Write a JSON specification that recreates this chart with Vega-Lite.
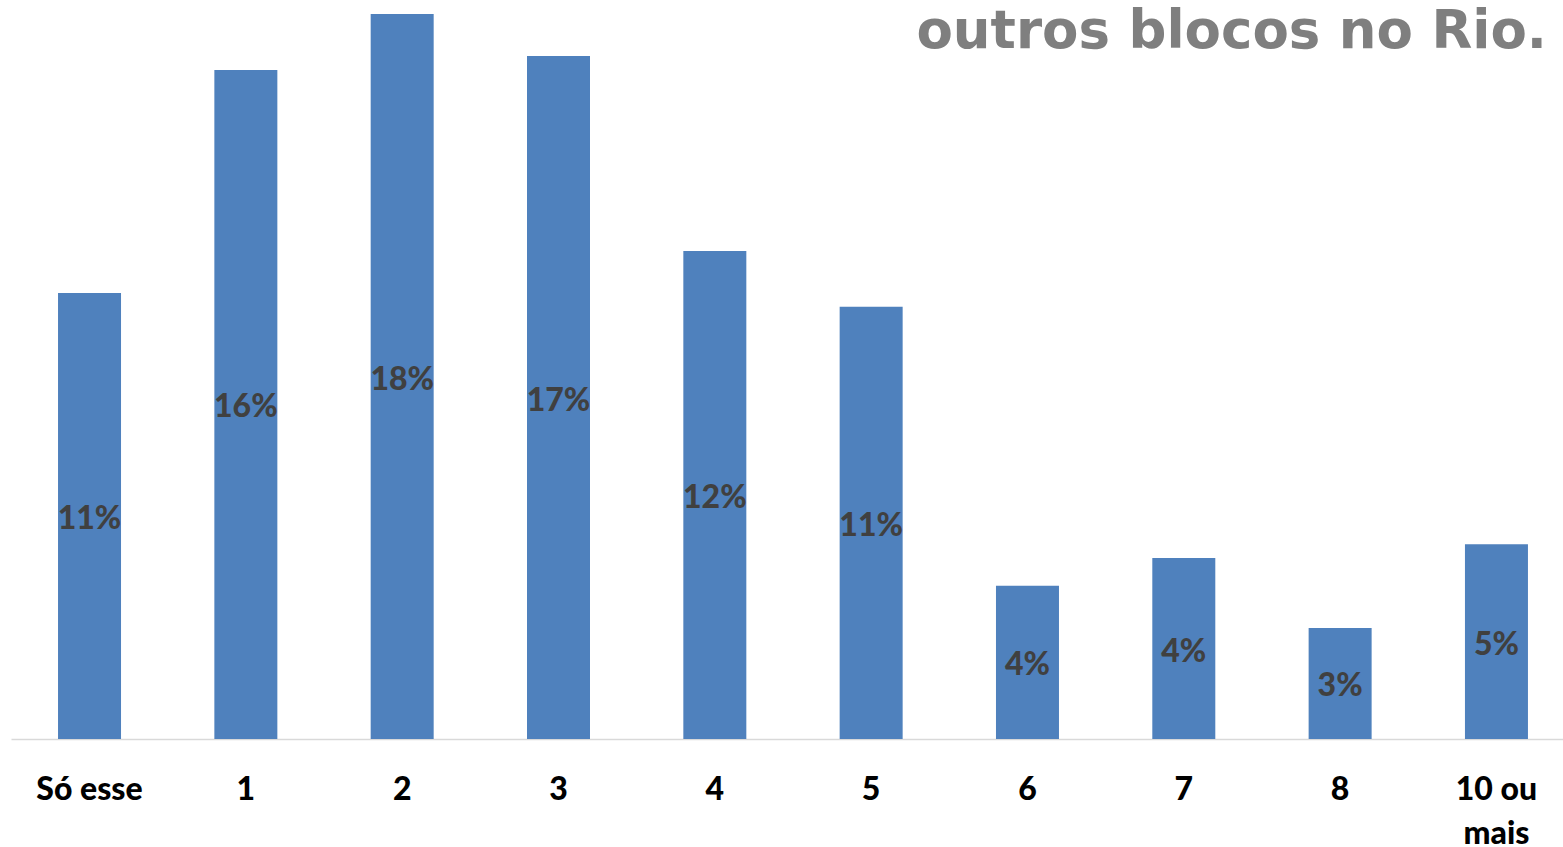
{
  "$schema": "https://vega.github.io/schema/vega-lite/v6.json",
  "autosize": {"type": "none"},
  "width": 1552,
  "height": 725,
  "padding": {"left": 11, "top": 14, "right": 0, "bottom": 108},
  "background": "white",
  "data": {
    "values": [
      {"cat": "Só esse", "value": 0.1092},
      {"cat": "1", "value": 0.1638},
      {"cat": "2", "value": 0.1775},
      {"cat": "3", "value": 0.1672},
      {"cat": "4", "value": 0.1195},
      {"cat": "5", "value": 0.1058},
      {"cat": "6", "value": 0.0375},
      {"cat": "7", "value": 0.0443},
      {"cat": "8", "value": 0.0272},
      {"cat": "10 ou mais", "value": 0.0477}
    ]
  },
  "config": {"view": {"stroke": null}},
  "encoding": {
    "x": {
      "field": "cat",
      "type": "nominal",
      "sort": null,
      "scale": {"paddingInner": 0.597, "paddingOuter": 0.2625, "align": 0.573},
      "axis": {
        "title": null,
        "labelAngle": 0,
        "labelFont": "Lato",
        "labelFontSize": 32,
        "labelFontWeight": 900,
        "labelColor": "#000000",
        "labelPadding": 35,
        "labelLineHeight": 44,
        "labelBaseline": "top",
        "ticks": false,
        "tickSize": 0,
        "domainColor": "#d9d9d9",
        "domainWidth": 1.5,
        "grid": false,
        "labelExpr": "datum.label == '10 ou mais' ? ['10 ou', 'mais'] : datum.label"
      }
    }
  },
  "layer": [
    {
      "mark": {"type": "bar", "color": "#4f81bd"},
      "encoding": {
        "y": {
          "field": "value",
          "type": "quantitative",
          "scale": {"domain": [0, 0.1775], "nice": false, "zero": true},
          "axis": null
        }
      }
    },
    {
      "mark": {
        "type": "text",
        "font": "Lato",
        "fontSize": 32,
        "fontWeight": 900,
        "color": "#404040",
        "baseline": "middle",
        "align": "center",
        "dy": 3
      },
      "encoding": {
        "y": {
          "field": "value",
          "type": "quantitative",
          "scale": {"domain": [0, 0.355], "nice": false, "zero": true},
          "axis": null
        },
        "text": {"field": "value", "type": "quantitative", "format": ".0%"}
      }
    },
    {
      "data": {"values": [{"title": "outros blocos no Rio."}]},
      "mark": {
        "type": "text",
        "font": "DejaVu Sans",
        "fontSize": 53,
        "fontWeight": "bold",
        "color": "#7f7f7f",
        "baseline": "alphabetic",
        "align": "right",
        "dx": 19,
        "dy": 34
      },
      "encoding": {
        "x": {"datum": "10 ou mais", "type": "nominal", "bandPosition": 1},
        "y": {
          "datum": 0.1775,
          "type": "quantitative",
          "scale": {"domain": [0, 0.1775], "nice": false, "zero": true},
          "axis": null
        },
        "text": {"field": "title", "type": "nominal"}
      }
    }
  ],
  "resolve": {"scale": {"y": "independent"}}
}
